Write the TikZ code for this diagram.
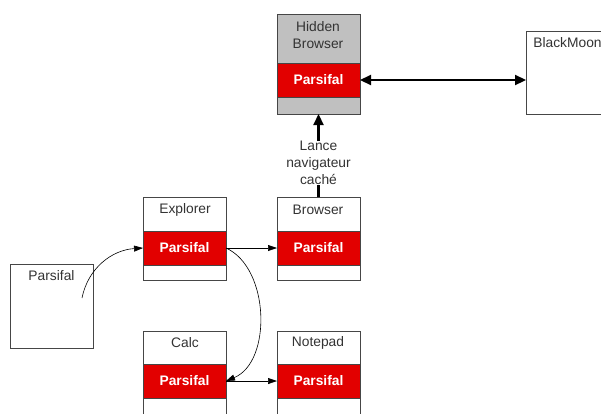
\documentclass[tikz,border=0pt]{standalone}
\usepackage{fontspec}
\setmainfont{Liberation Sans}
\usetikzlibrary{arrows.meta}
\definecolor{pred}{RGB}{226,0,0}
\definecolor{pgray}{RGB}{192,192,192}
\definecolor{edge}{RGB}{70,70,70}
\begin{document}
\begin{tikzpicture}[x=1pt,y=-1pt,
  box/.style={draw=edge, fill=white, minimum width=83pt, minimum height=#1, inner sep=0pt, outer sep=0pt, anchor=north west, line width=0.7pt},
  band/.style={draw=edge, fill=pred, minimum width=83pt, minimum height=34pt, inner sep=0pt, outer sep=0pt, anchor=north west, line width=0.7pt, text=white, font=\fontsize{13.8}{16}\selectfont\bfseries},
  ttl/.style={font=\fontsize{13.8}{17}\selectfont, text=black!80, inner sep=0pt, align=center},
  thin/.style={draw=black, line width=0.6pt, -{Triangle[length=9pt,width=6pt]}},
  heavy/.style={draw=black, line width=2.2pt}
]
\useasboundingbox (0,0) rectangle (601,413);
\clip (0,0) rectangle (601,413);
% Hidden Browser
\node[box=100pt, fill=pgray] (hb) at (277,14) {};
\node[band] (hbr) at (277,63) {Parsifal};
\node[ttl] (hbt) at (318,35) {Hidden\\Browser};
% BlackMoon
\node[box=83pt] (bm) at (526,31) {};
\node[ttl] (bmt) at (567.5,42.5) {BlackMoon};
% Explorer
\node[box=83pt] (ex) at (143,197) {};
\node[band] (exr) at (143,231) {Parsifal};
\node[ttl] (ext) at (185,210) {Explorer};
% Browser
\node[box=83pt] (br) at (277,197) {};
\node[band] (brr) at (277,231) {Parsifal};
\node[ttl] (brt) at (318,210) {Browser};
% Calc
\node[box=100pt] (ca) at (143,331) {};
\node[band] (car) at (143,364) {Parsifal};
\node[ttl] (cat) at (185,343) {Calc};
% Notepad
\node[box=100pt] (np) at (277,331) {};
\node[band] (npr) at (277,364) {Parsifal};
\node[ttl] (npt) at (318,343) {Notepad};
% Parsifal (left)
\node[box=84pt] (ps) at (10,264) {};
\node[ttl] (pst) at (51.5,276) {Parsifal};
\coordinate (psc) at (82,298);
% connectors
\draw[heavy, {Triangle[length=11pt,width=10pt]}-{Triangle[length=11pt,width=10pt]}] (hbr.east) -- (bm.west |- hbr.east);
\draw[heavy, -{Triangle[length=11pt,width=10pt]}] (br.north) -- node[pos=0.41, fill=white, inner sep=2pt, ttl]{Lance\\navigateur\\caché} (hb.south);
\draw[thin] (psc) .. controls (88,268) and (112,250) .. (exr.west);
\draw[thin] (exr.east) -- (brr.west);
\draw[thin] (car.east) -- (npr.west);
\draw[thin] (exr.east) .. controls (270,268) and (272,362) .. (car.east);
\end{tikzpicture}
\end{document}
